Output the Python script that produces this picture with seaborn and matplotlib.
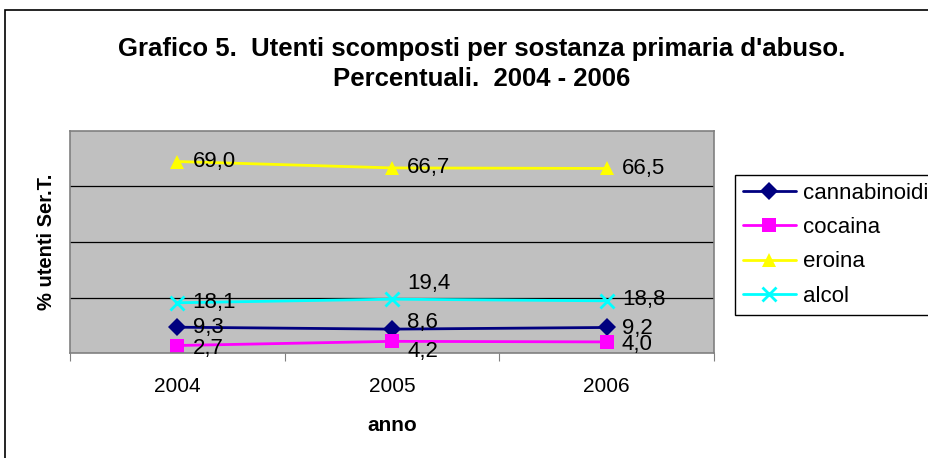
import seaborn as sns
import matplotlib.pyplot as plt
import pandas as pd
from matplotlib.patches import Rectangle

# data
anni = ['2004', '2005', '2006']
sostanze = ['cannabinoidi', 'cocaina', 'eroina', 'alcol']
cannabinoidi = [9.3, 8.6, 9.2]
cocaina = [2.7, 4.2, 4.0]
eroina = [69.0, 66.7, 66.5]
alcol = [18.1, 19.4, 18.8]

colori = {'cannabinoidi': '#000080', 'cocaina': '#FF00FF',
          'eroina': '#FFFF00', 'alcol': '#00FFFF'}
marker = {'cannabinoidi': 'D', 'cocaina': 's', 'eroina': '^', 'alcol': 'x'}
msize = {'cannabinoidi': 9.5, 'cocaina': 10, 'eroina': 10, 'alcol': 10}
# label offsets in points (dx, dy)
offset = {
    'cannabinoidi': [(11, 0), (11, 5), (11, -1)],
    'cocaina': [(11, -2), (11, -7), (11, -2)],
    'eroina': [(11, 0), (11, 0), (11, 0)],
    'alcol': [(11, 0), (11, 11), (11, 1)],
}

valori = [cannabinoidi, cocaina, eroina, alcol]
df = pd.DataFrame({
    'anno': [i for _ in sostanze for i in range(len(anni))],
    'sostanza': [s for s in sostanze for _ in anni],
    'valore': [v for serie in valori for v in serie],
})

sns.set_style('white')
plt.rcParams['font.family'] = ['Liberation Sans', 'DejaVu Sans']
plt.rcParams['text.color'] = 'black'
plt.rcParams['axes.labelcolor'] = 'black'
plt.rcParams['xtick.color'] = 'black'

fig = plt.figure(figsize=(9.29, 4.58), dpi=100)
ax = fig.add_axes([70 / 929, 1 - 353 / 458, 644 / 929, 222 / 458])
ax.set_facecolor('#C0C0C0')

for s in sostanze:
    sub = df[df['sostanza'] == s]
    sns.lineplot(data=sub, x='anno', y='valore', color=colori[s],
                 marker=marker[s], markersize=msize[s],
                 markeredgewidth=2 if s == 'alcol' else 0,
                 markeredgecolor=colori[s], linewidth=2, ax=ax)

for s, serie in zip(sostanze, valori):
    for i, v in enumerate(serie):
        ax.annotate(f'{v:.1f}'.replace('.', ','), (i, v),
                    xytext=offset[s][i], textcoords='offset points',
                    ha='left', va='center', fontsize=16)

ax.set_xlim(-0.5, 2.5)
ax.set_ylim(0, 80)
ax.set_yticks([20, 40, 60])
ax.yaxis.grid(True, color='black', linewidth=0.9)
ax.tick_params(axis='y', left=False, labelleft=False)
ax.set_xticks([-0.5, 0.5, 1.5, 2.5])
ax.set_xticklabels([])
ax.set_xticks([0, 1, 2], minor=True)
ax.set_xticklabels(anni, minor=True, fontsize=15)
ax.tick_params(axis='x', which='major', direction='out', length=6,
               color='#808080', bottom=True)
ax.tick_params(axis='x', which='minor', length=0, pad=17)
for sp in ax.spines.values():
    sp.set_color('#808080')
    sp.set_linewidth(1.2)

ax.set_xlabel('anno', fontsize=15, fontweight='bold', labelpad=15)
ax.set_ylabel('% utenti Ser.T.', fontsize=14.5, fontweight='bold', labelpad=10)

fig.suptitle("Grafico 5.  Utenti scomposti per sostanza primaria d'abuso.\n"
             "Percentuali.  2004 - 2006", x=482 / 929, y=1 - 37 / 458,
             fontsize=18.5, fontweight='bold', linespacing=1.3, va='top')

# legend built from the same styles
handles = [plt.Line2D([], [], color=colori[s], marker=marker[s], lw=2,
                      markersize=msize[s], mew=2 if s == 'alcol' else 0)
           for s in sostanze]
fig.legend(handles, sostanze, loc='upper left',
           bbox_to_anchor=(735 / 929, 1 - 175 / 458), fontsize=16,
           frameon=True, fancybox=False, edgecolor='black', framealpha=1,
           handlelength=2.4, handletextpad=0.3, labelspacing=0.6,
           borderpad=0.35, borderaxespad=0)

# outer chart frame
fig.patches.append(Rectangle((5 / 929, -0.1), 1.2, 1 - 10 / 458 + 0.1,
                             transform=fig.transFigure, fill=False,
                             edgecolor='black', linewidth=1.2))

plt.savefig('out.png', dpi=100)
